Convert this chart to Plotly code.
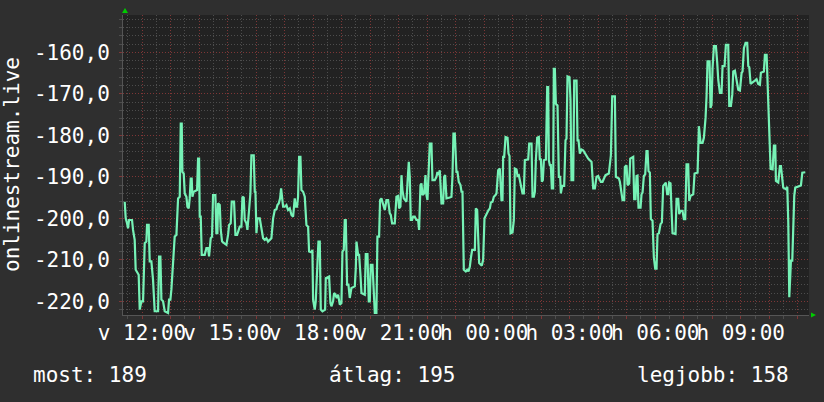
import datetime as dt
import plotly.graph_objects as go

# ---- data ----
start_time = "2024-03-10 11:20"          # Sunday (v) 11:20
span_minutes = 1443.6
minutes = [
    3.6, 5.7, 8.5, 10.6, 12.7, 19.0, 21.1, 24.6, 26.7, 33.0, 35.2, 38.7, 42.2, 43.6, 45.7, 49.2, 50.6, 54.1,
    56.2, 59.7, 63.2, 66.7, 73.8, 75.9, 78.7, 80.8, 84.3, 87.8, 94.8, 96.9, 99.7, 101.8, 105.3, 108.8, 112.4,
    115.9, 119.4, 121.5, 123.6, 125.0, 127.8, 129.9, 133.4, 135.5, 138.3, 140.4, 142.5, 144.6, 146.0, 148.8,
    155.9, 158.0, 160.1, 161.5, 163.6, 165.7, 172.0, 175.5, 179.0, 181.1,
    184.6, 187.4, 189.5, 194.4, 196.5, 198.7, 200.1, 203.6, 205.7, 208.5, 212.7, 217.6, 221.1, 223.2, 226.7,
    228.8, 233.7, 236.6, 240.1, 242.2, 245.7, 249.2, 251.3, 254.1, 256.2, 259.7, 261.8, 265.3, 268.1, 270.2,
    275.1, 277.3, 278.7, 280.8, 282.9, 287.8, 291.3, 294.8, 298.3, 301.8, 305.3, 308.8, 312.3, 315.9, 319.4,
    322.9, 325.0, 327.8, 330.6, 332.7, 334.8, 336.9, 340.4, 343.9, 347.4, 351.0, 354.5, 358.0,
    361.4, 363.5, 366.3, 368.4, 370.6, 373.4, 375.5, 379.0, 382.5, 386.0, 389.5, 391.6, 396.5, 398.6, 400.0,
    403.5, 405.6, 408.4, 411.3, 414.1, 416.2, 419.7, 425.3, 426.7, 433.7, 436.5, 438.6, 442.1, 444.2, 447.0,
    449.9, 452.7, 456.2, 459.7, 461.8, 464.6, 466.7, 468.8, 471.6, 474.4, 477.2, 480.7, 487.8, 489.9, 491.3,
    494.8, 496.9, 499.7, 501.8, 508.8, 510.9, 514.4, 517.2, 519.3, 521.4, 525.0, 526.4, 529.9,
    533.3, 535.4, 538.9, 541.0, 543.8, 547.3, 550.9, 554.4, 557.9, 561.4, 563.5, 566.3, 571.9, 575.4, 578.9,
    581.0, 583.8, 586.0, 588.0, 590.9, 596.5, 598.6, 601.4, 603.5, 605.6, 608.4, 610.5, 614.0, 617.5, 621.0,
    623.1, 626.0, 628.1, 630.2, 633.7, 636.5, 638.6, 640.7, 643.5, 645.6, 649.1, 651.2, 656.1, 659.6, 661.7,
    664.5, 666.6, 670.2, 673.7, 675.8, 677.9, 680.7, 687.7, 691.2, 693.3, 695.4, 698.2, 701.7, 703.8, 706.6,
    710.2,
    712.3, 714.4, 717.2, 721.4, 724.2, 727.0, 729.9, 732.0, 734.8, 740.4, 742.5, 745.3, 747.4, 749.5, 755.1,
    757.9, 760.7, 763.5, 766.3, 769.2, 772.0, 774.1, 777.6, 780.4, 783.9, 786.0, 789.5, 793.0, 794.4, 796.5,
    798.6, 800.0, 802.1, 805.0, 809.2, 811.3, 813.4, 815.5, 819.7, 822.5, 824.6, 828.1, 830.2, 833.0, 835.1,
    838.6, 840.7, 843.5, 845.6, 852.7, 854.8, 859.7, 861.8, 864.6, 866.7, 868.8, 871.6, 875.1, 877.2, 879.3,
    881.4, 883.5, 885.7, 889.9, 892.7, 894.8,
    896.1, 898.2, 900.3, 902.4, 905.2, 906.6, 908.8, 910.9, 914.4, 917.2, 920.0, 921.4, 924.2, 928.4, 931.2,
    933.3, 935.4, 939.6, 941.7, 943.8, 947.4, 949.5, 954.4, 956.5, 958.6, 961.4, 964.9, 968.4, 971.9, 975.4,
    978.9, 982.4, 986.0, 989.5, 993.0, 996.5, 1000.0, 1002.1, 1005.6, 1009.1, 1012.6, 1015.4, 1022.4, 1024.5,
    1026.7, 1029.5, 1035.1, 1037.2, 1043.5, 1045.6, 1049.1, 1051.2, 1054.7, 1056.1, 1059.6, 1061.8, 1065.3,
    1067.4, 1073.7,
    1075.7, 1078.5, 1080.6, 1082.7, 1084.8, 1089.1, 1091.2, 1093.3, 1096.1, 1098.9, 1101.7, 1103.8, 1105.9,
    1108.7, 1110.8, 1114.3, 1117.1, 1120.0, 1122.7, 1124.8, 1127.7, 1131.2, 1134.0, 1136.8, 1142.4, 1145.2,
    1147.3, 1149.4, 1152.2, 1154.3, 1156.4, 1162.7, 1164.9, 1168.4, 1170.5, 1173.3, 1177.5, 1180.3, 1183.1,
    1185.9, 1189.4, 1191.5, 1194.3, 1200.0, 1202.8, 1209.1, 1211.9, 1215.4, 1219.6, 1222.4, 1225.9, 1228.0,
    1230.1, 1234.3, 1236.4, 1238.5, 1240.6, 1243.5, 1247.7, 1250.5, 1252.6, 1256.1,
    1259.6, 1261.7, 1265.9, 1268.7, 1273.6, 1275.8, 1279.3, 1282.1, 1284.2, 1287.7, 1291.2, 1294.7, 1298.2,
    1301.7, 1303.8, 1306.6, 1310.1, 1313.6, 1315.8, 1317.9, 1320.7, 1324.2, 1327.7, 1333.3, 1336.8, 1340.3,
    1342.4, 1348.7, 1350.8, 1354.4, 1356.5, 1358.6, 1360.0, 1361.4, 1362.8, 1367.0, 1369.8, 1372.6, 1374.0,
    1378.9, 1382.4, 1384.5, 1386.6, 1389.4, 1395.1, 1397.9, 1400.0, 1402.1, 1404.2, 1405.6, 1408.4, 1410.5,
    1412.6, 1414.7, 1421.0, 1426.6, 1429.5, 1435.8,
]
values = [
    -196.0, -200.0, -201.2, -202.4, -200.4, -200.4, -202.8, -205.2, -212.4, -213.6, -222.0, -220.0, -220.0, -212.4, -206.0, -205.6, -201.6, -201.6,
    -210.4, -210.4, -214.8, -222.4, -222.4, -209.2, -209.2, -219.6, -220.0, -222.4, -222.8, -219.6, -219.6, -217.2, -210.0, -204.4, -204.0,
    -195.2, -194.8, -177.2, -177.2, -188.8, -189.2, -194.0, -194.8, -197.2, -197.6, -195.2, -190.4, -190.4, -194.8, -193.6,
    -193.2, -185.6, -185.6, -199.6, -199.6, -208.8, -208.8, -207.2, -207.2, -209.2,
    -204.8, -204.4, -194.4, -194.4, -203.6, -203.6, -196.4, -196.8, -202.8, -205.6, -206.0, -206.4, -204.0, -201.6, -201.2,
    -196.0, -196.0, -204.0, -204.0, -203.2, -202.0, -202.0, -194.8, -195.0, -200.4, -201.2, -202.8, -198.0, -194.0, -184.8,
    -184.8, -193.6, -193.6, -203.6, -200.0, -200.0, -202.0, -204.8, -205.2, -204.8, -205.6, -205.2, -204.8, -200.0, -198.0,
    -197.8, -196.8, -196.4, -195.2, -192.8, -195.2, -197.2, -197.2, -196.8, -198.0, -197.6, -199.2, -199.6,
    -195.2, -197.2, -197.2, -194.8, -185.2, -185.2, -193.2, -193.6, -194.8, -201.6, -202.0, -208.0, -208.2, -207.6, -219.6,
    -222.0, -220.0, -214.0, -205.6, -205.6, -222.0, -222.4, -222.0, -214.4, -214.0, -220.4, -221.2, -220.0, -218.0, -218.4,
    -219.2, -218.4, -220.8, -220.4, -208.0, -207.6, -200.4, -200.4, -216.0, -216.0, -219.2, -216.8, -216.4, -212.0, -205.6,
    -208.8, -208.8, -213.6, -218.0, -218.4, -208.6, -208.6, -220.0, -220.0, -211.2, -211.2, -215.6, -222.8,
    -222.8, -204.4, -204.4, -195.6, -195.2, -196.4, -198.0, -195.6, -195.6, -198.8, -199.2, -201.2, -201.2, -194.8, -194.6,
    -197.6, -197.2, -189.6, -193.2, -195.2, -196.0, -191.6, -186.4, -190.0, -200.4, -200.4, -199.6, -199.6, -200.4, -200.4,
    -202.8, -192.0, -191.6, -194.4, -194.0, -189.6, -194.4, -195.6, -186.8, -182.0, -182.0, -190.8, -190.8, -190.0, -188.8,
    -189.6, -188.4, -196.4, -196.4, -190.0, -189.6, -195.2, -195.0, -194.8, -190.0, -179.6, -179.6, -188.8, -188.8, -191.2,
    -192.0,
    -193.6, -193.6, -212.4, -212.8, -212.4, -212.8, -211.6, -209.6, -207.6, -207.6, -197.6, -198.0, -207.6, -210.8, -211.4,
    -210.0, -200.0, -199.2, -198.8, -198.0, -197.6, -196.2, -196.0, -194.8, -194.4, -194.0, -188.4, -188.0, -191.2, -195.6,
    -195.6, -185.2, -185.2, -180.4, -180.6, -184.4, -185.0, -203.6, -203.4, -200.4, -188.0, -188.2, -189.8, -189.6, -190.8,
    -192.4, -194.0, -194.0, -186.0, -185.8, -182.0, -182.0, -194.8, -194.8, -193.6, -186.0, -180.6, -180.4, -186.0, -185.6,
    -191.2, -190.8, -186.0, -185.8, -168.4, -168.4,
    -186.0, -187.2, -187.2, -192.8, -192.8, -164.0, -164.0, -172.4, -172.8, -190.0, -190.0, -194.0, -192.2, -192.2, -181.2,
    -180.8, -165.8, -166.0, -171.6, -190.8, -190.8, -166.8, -166.8, -181.2, -181.2, -184.4, -183.4, -183.6, -184.4, -185.0,
    -185.6, -186.0, -186.4, -192.8, -192.8, -190.0, -189.8, -190.4, -191.2, -191.2, -190.4, -189.6, -189.2, -187.2,
    -184.8, -170.6, -170.6, -190.0, -190.4, -191.2, -193.6, -195.6, -195.6, -187.6, -187.2, -192.0, -191.6,
    -185.6, -185.2,
    -195.4, -195.4, -189.8, -189.7, -197.4, -197.4, -194.2, -193.8, -189.8, -189.4, -183.8, -183.8, -188.6,
    -189.0, -200.2, -200.6, -209.4, -212.1, -212.1, -203.8, -203.6, -201.4, -201.0, -192.2, -191.4, -194.2,
    -194.2, -191.4, -191.6, -197.8, -203.6, -203.8, -195.3, -195.3, -199.0, -198.2, -198.2, -200.2, -200.2,
    -187.0, -187.0, -195.8, -194.6, -194.2, -189.2, -189.0, -177.8, -181.8, -181.8, -180.6, -175.8, -170.6,
    -162.2, -162.2, -173.4, -172.6, -163.8, -158.5, -158.5, -162.6, -166.6, -169.8,
    -169.8, -163.3, -163.3, -158.2, -158.2, -172.9, -172.9, -170.2, -164.6, -164.4, -166.5, -169.0, -169.2,
    -165.0, -164.6, -159.0, -157.7, -157.7, -163.3, -163.6, -167.6, -167.4, -167.0, -166.5, -167.6, -167.8,
    -164.9, -164.6, -160.6, -160.6, -167.4, -177.0, -177.8, -185.8, -188.1, -188.2, -182.5, -182.5, -191.0,
    -191.4, -187.4, -187.4, -189.8, -192.6, -193.0, -192.4, -201.0, -219.0, -213.8, -210.2, -210.2, -199.4,
    -194.5, -192.6, -192.4, -192.1, -189.0, -188.9,
]
y_ticks = [-220, -210, -200, -190, -180, -170, -160]
y_tick_labels = ["-220,0", "-210,0", "-200,0", "-190,0", "-180,0", "-170,0", "-160,0"]
hour_ticks = ["2024-03-10 12:00", "2024-03-10 13:00", "2024-03-10 14:00", "2024-03-10 15:00",
              "2024-03-10 16:00", "2024-03-10 17:00", "2024-03-10 18:00", "2024-03-10 19:00",
              "2024-03-10 20:00", "2024-03-10 21:00", "2024-03-10 22:00", "2024-03-10 23:00",
              "2024-03-11 00:00", "2024-03-11 01:00", "2024-03-11 02:00", "2024-03-11 03:00",
              "2024-03-11 04:00", "2024-03-11 05:00", "2024-03-11 06:00", "2024-03-11 07:00",
              "2024-03-11 08:00", "2024-03-11 09:00", "2024-03-11 10:00", "2024-03-11 11:00"]
hour_labels = ["v 12:00", "", "", "v 15:00", "", "", "v 18:00", "", "", "v 21:00", "", "",
               "h 00:00", "", "", "h 03:00", "", "", "h 06:00", "", "", "h 09:00", "", ""]
series_name = "onlinestream.live"
legend_items = ["most: 189", "átlag: 195", "legjobb: 158"]

# ---- build ----
base = dt.datetime.strptime(start_time, "%Y-%m-%d %H:%M")
times = [base + dt.timedelta(minutes=m) for m in minutes]
x_end = base + dt.timedelta(minutes=span_minutes)

FONT = "DejaVu Sans Mono"
TXT = "#ffffff"
MINOR = "#4d4d4d"
MAJOR = "#7e3636"

fig = go.Figure()
fig.add_trace(go.Scatter(x=times, y=values, mode="lines",
                         line=dict(color="#76f2b6", width=2.2), hoverinfo="skip",
                         showlegend=False))

fig.update_layout(
    width=824, height=402,
    margin=dict(l=123, r=15, t=15, b=87),
    paper_bgcolor="#2f2f2f", plot_bgcolor="#222222",
    font=dict(family=FONT, size=21, color=TXT),
    xaxis=dict(
        range=[base, x_end], tickmode="array", tickvals=hour_ticks, ticktext=hour_labels,
        tickangle=0, automargin=False,
        showgrid=True, gridcolor=MAJOR, griddash="1px,2px", gridwidth=1,
        ticks="outside", ticklen=3, tickcolor=MAJOR, ticklabelstandoff=-4,
        showline=True, linecolor="#555555", linewidth=1, zeroline=False,
        tickfont=dict(family=FONT, size=21, color=TXT),
        minor=dict(tickmode="linear", tick0="2024-03-10 11:30", dtick=1800000,
                   showgrid=True, gridcolor=MINOR, griddash="1px,2px", gridwidth=1,
                   ticks="outside", ticklen=3, tickcolor=MINOR),
    ),
    yaxis=dict(
        range=[-223.3, -151.0], tickmode="array", tickvals=y_ticks, ticktext=y_tick_labels,
        automargin=False,
        showgrid=True, gridcolor=MAJOR, griddash="1px,2px", gridwidth=1,
        ticks="outside", ticklen=3, tickcolor=MAJOR, ticklabelstandoff=5,
        showline=True, linecolor="#555555", linewidth=1, zeroline=False,
        tickfont=dict(family=FONT, size=21, color=TXT),
        minor=dict(tickmode="linear", tick0=0, dtick=2,
                   showgrid=True, gridcolor=MINOR, griddash="1px,2px", gridwidth=1,
                   ticks="outside", ticklen=3, tickcolor=MINOR),
    ),
)

# rotated axis title
fig.add_annotation(text=series_name, xref="paper", yref="paper", x=0, y=0.5,
                   xanchor="center", yanchor="middle", xshift=-111, textangle=-90,
                   showarrow=False, font=dict(family=FONT, size=21, color=TXT))

# legend line
for txt, shift in zip(legend_items, [-92, 204, 512]):
    fig.add_annotation(text=txt, xref="paper", yref="paper", x=0, y=0,
                       xanchor="left", yanchor="middle", xshift=shift, yshift=-60,
                       showarrow=False, font=dict(family=FONT, size=21, color=TXT))

# axis arrows (rrdtool style)
fig.add_shape(type="path", xref="paper", yref="paper", xsizemode="pixel", ysizemode="pixel",
              xanchor=0, yanchor=1, path="M -1 2 L 5 2 L 2 7 Z",
              fillcolor="#00cc00", line=dict(width=0))
fig.add_shape(type="path", xref="paper", yref="paper", xsizemode="pixel", ysizemode="pixel",
              xanchor=1, yanchor=0, path="M 2 -2.5 L 2 2.5 L 7 0 Z",
              fillcolor="#00cc00", line=dict(width=0))

fig.write_html("out.html", config={"displayModeBar": False, "staticPlot": True},
               post_script="document.body.style.margin='0';document.body.style.overflow='hidden';")
